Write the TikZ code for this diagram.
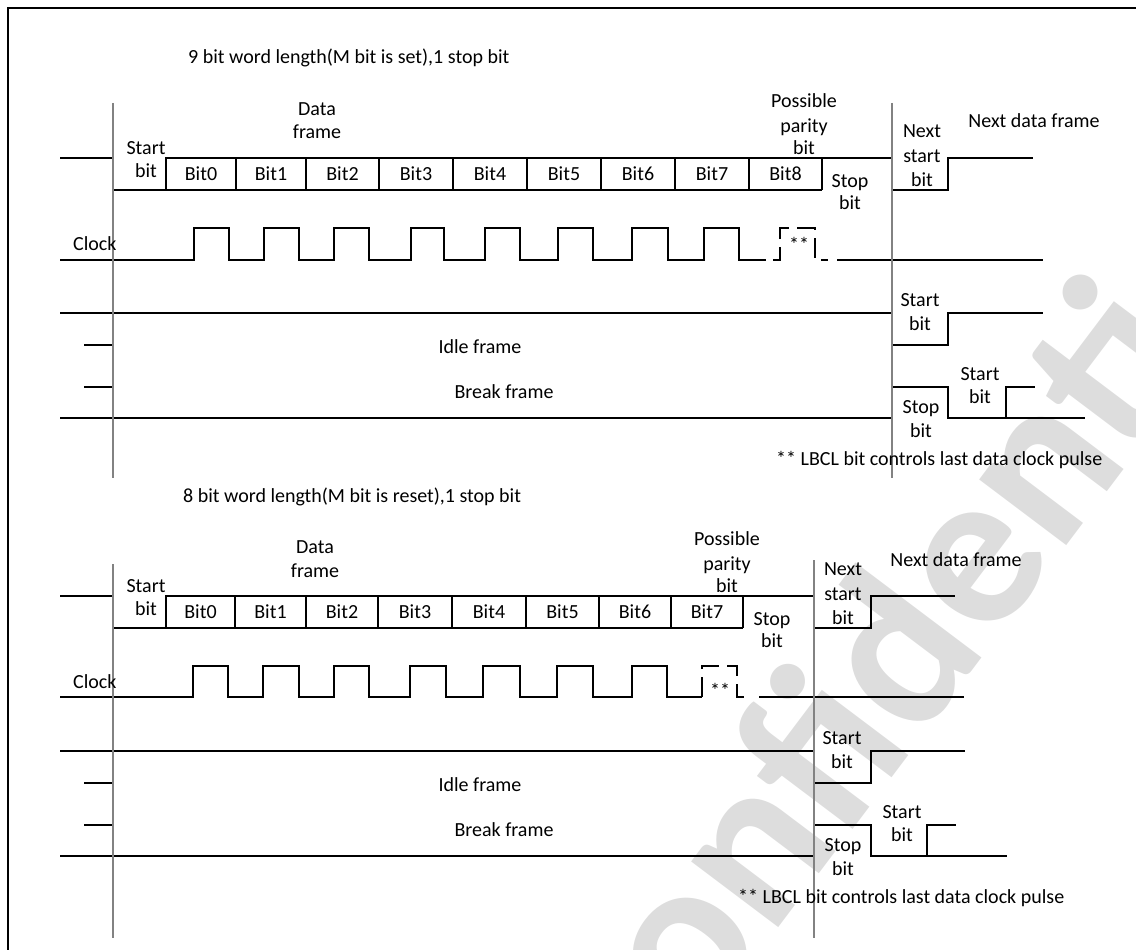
\documentclass[tikz,border=0pt]{standalone}
\usepackage{fontspec}
\setmainfont{Carlito}
\definecolor{wmgray}{RGB}{221,221,221}
\definecolor{gridgray}{RGB}{130,130,130}
\begin{document}
\begin{tikzpicture}[x=1pt,y=-1pt,
  sig/.style={line width=1.8pt, line join=miter, draw=black},
  dsh/.style={sig, dash pattern=on 20pt off 8pt},
  vgrid/.style={line width=1.4pt, draw=gridgray},
  lbl/.style={anchor=base, inner sep=0pt, font=\fontsize{20}{24}\selectfont},
  lblw/.style={anchor=base west, inner sep=0pt, font=\fontsize{20}{24}\selectfont},
]
\useasboundingbox (0,0) rectangle (1136,950);
\begin{scope}
\clip (0,0) rectangle (1136,950);
\node[rotate=53, text=wmgray, inner sep=0pt, font=\fontsize{225}{225}\selectfont\bfseries] (wm) at (905,630) {Confidential};
\draw[line width=2pt] (8,960) -- (8,8) -- (1150,8);
\end{scope}

% ================= TOP (9 bit) =================
\begin{scope}
\node[lblw] (t1) at (188,64) {9 bit word length(M bit is set),1 stop bit};
% data row
\draw[sig] (60,158) -- (113,158) -- (113,190) -- (822,190);
\draw[sig] (166,190) -- (166,158) -- (822,158) -- (822,190);
\foreach \x in {236,306,379,453,527,601,675,749} \draw[sig] (\x,158) -- (\x,190);
\draw[sig] (822,158) -- (892,158) -- (892,190) -- (948,190) -- (948,158) -- (1033,158);
\foreach \c/\t [count=\i] in {201/Bit0,271/Bit1,342.5/Bit2,416/Bit3,490/Bit4,564/Bit5,638/Bit6,712/Bit7,785.5/Bit8}
  \node[lbl] (tb\i) at (\c,180) {\t};
% clock
\draw[sig] (60,260) foreach \a/\b in {194/229,264/299,334/369,411/444,485/520,558/593,632/668,704/739}
  { -- (\a,260) -- (\a,228) -- (\b,228) -- (\b,260) } -- (766,260);
\draw[dsh] (773,260) -- (780,260) -- (780,228) -- (815,228) -- (815,260) -- (828,260);
\draw[sig] (837,260) -- (1043,260);
% idle / break
\draw[sig] (60,313) -- (892,313) -- (892,345) -- (948,345) -- (948,313) -- (1043,313);
\draw[sig] (84,345) -- (113,345);
\draw[sig] (84,387) -- (113,387);
\draw[sig] (60,418) -- (892,418) -- (892,387) -- (948,387) -- (948,418) -- (1085,418);
\draw[sig] (1006,418) -- (1006,387) -- (1035,387);
% grid lines
\draw[vgrid] (113,103) -- (113,478);
\draw[vgrid] (892,103) -- (892,478);
% labels
\node[lbl] (tdf1) at (317,115) {Data};
\node[lbl] (tdf2) at (317,139) {frame};
\node[lbl] (tsb1) at (146,154) {Start};
\node[lbl] (tsb2) at (146,177) {bit};
\node[lbl] (tpp1) at (804,107) {Possible};
\node[lbl] (tpp2) at (804,132) {parity};
\node[lbl] (tpp3) at (804,154) {bit};
\node[lbl] (tst1) at (850,187) {Stop};
\node[lbl] (tst2) at (850,209) {bit};
\node[lbl] (tns1) at (922,137) {Next};
\node[lbl] (tns2) at (922,162) {start};
\node[lbl] (tns3) at (922,186) {bit};
\node[lbl] (tnd) at (1034,128) {Next data frame};
\node[lblw] (tclk) at (73,250) {Clock};
\node[lbl] (tast) at (799,251) {**};
\node[lbl] (tidle) at (480,353) {Idle frame};
\node[lbl] (tbrk) at (504,398) {Break frame};
\node[lbl] (tis1) at (920,306) {Start};
\node[lbl] (tis2) at (920,330) {bit};
\node[lbl] (tbs1) at (980,380) {Start};
\node[lbl] (tbs2) at (980,403) {bit};
\node[lbl] (tbp1) at (921,413) {Stop};
\node[lbl] (tbp2) at (921,437) {bit};
\node[lblw] (tnote) at (776,465) {** LBCL bit controls last data clock pulse};
\end{scope}

% ================= BOTTOM (8 bit) =================
\begin{scope}[shift={(0,438)}]
\node[lblw] (b1) at (183,64) {8 bit word length(M bit is reset),1 stop bit};
% data row
\draw[sig] (60,158) -- (113,158) -- (113,190) -- (743,190);
\draw[sig] (166,190) -- (166,158) -- (743,158) -- (743,190);
\foreach \x in {235,306,378,452,526,599,671} \draw[sig] (\x,158) -- (\x,190);
\draw[sig] (743,158) -- (814,158) -- (814,190) -- (871,190) -- (871,158) -- (955,158);
\foreach \c/\t [count=\i] in {200.5/Bit0,270.5/Bit1,342/Bit2,415/Bit3,489/Bit4,562.5/Bit5,635/Bit6,707/Bit7}
  \node[lbl] (bb\i) at (\c,180) {\t};
% clock
\draw[sig] (60,259) foreach \a/\b in {193/228,263/299,334/369,410/446,483/520,557/593,632/667}
  { -- (\a,259) -- (\a,228) -- (\b,228) -- (\b,259) } -- (702,259);
\draw[dsh] (702,259) -- (702,228) -- (737,228) -- (737,259) -- (750,259);
\draw[sig] (759,259) -- (964,259);
% idle / break
\draw[sig] (60,313) -- (814,313) -- (814,345) -- (871,345) -- (871,313) -- (965,313);
\draw[sig] (84,345) -- (113,345);
\draw[sig] (84,387) -- (113,387);
\draw[sig] (60,418) -- (814,418) -- (814,387) -- (871,387) -- (871,418) -- (1007,418);
\draw[sig] (927,418) -- (927,387) -- (956,387);
% grid lines
\draw[vgrid] (113,126) -- (113,500);
\draw[vgrid] (814,122) -- (814,500);
% labels
\node[lbl] (bdf1) at (315,115) {Data};
\node[lbl] (bdf2) at (315,139) {frame};
\node[lbl] (bsb1) at (146,154) {Start};
\node[lbl] (bsb2) at (146,177) {bit};
\node[lbl] (bpp1) at (727,107) {Possible};
\node[lbl] (bpp2) at (727,132) {parity};
\node[lbl] (bpp3) at (727,154) {bit};
\node[lbl] (bst1) at (772,187) {Stop};
\node[lbl] (bst2) at (772,209) {bit};
\node[lbl] (bns1) at (843,137) {Next};
\node[lbl] (bns2) at (843,162) {start};
\node[lbl] (bns3) at (843,186) {bit};
\node[lbl] (bnd) at (956,128) {Next data frame};
\node[lblw] (bclk) at (73,250) {Clock};
\node[lbl] (bast) at (720,259) {**};
\node[lbl] (bidle) at (480,353) {Idle frame};
\node[lbl] (bbrk) at (504,398) {Break frame};
\node[lbl] (bis1) at (842,306) {Start};
\node[lbl] (bis2) at (842,330) {bit};
\node[lbl] (bbs1) at (902,380) {Start};
\node[lbl] (bbs2) at (902,403) {bit};
\node[lbl] (bbp1) at (843,413) {Stop};
\node[lbl] (bbp2) at (843,437) {bit};
\node[lblw] (bnote) at (738,465) {** LBCL bit controls last data clock pulse};
\end{scope}
\end{tikzpicture}
\end{document}
